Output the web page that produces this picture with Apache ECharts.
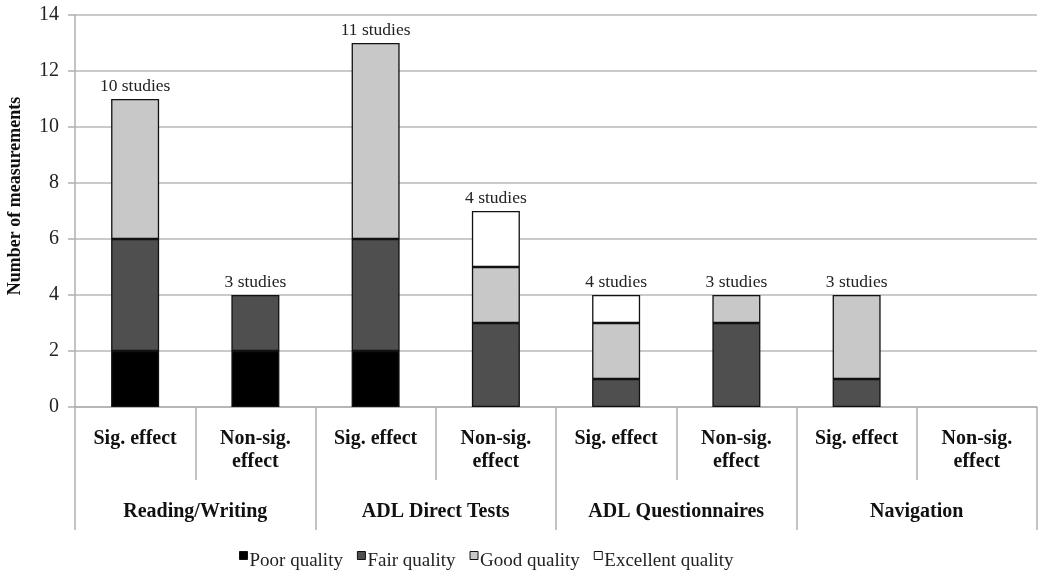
<!DOCTYPE html>
<html><head><meta charset="utf-8">
<script src="https://cdn.jsdelivr.net/npm/echarts@6/dist/echarts.min.js"></script>
<style>html,body{margin:0;padding:0;background:#fff}#c{width:1050px;height:578px}</style>
</head><body><div id="c"></div>
<script>
const categories = ['Sig. effect','Non-sig.\neffect','Sig. effect','Non-sig.\neffect','Sig. effect','Non-sig.\neffect','Sig. effect','Non-sig.\neffect'];
const groups = ['Reading/Writing','ADL Direct Tests','ADL Questionnaires','Navigation'];
const poor = [2,2,2,0,0,0,0,0];
const fair = [4,2,4,3,1,3,1,0];
const good = [5,0,7,2,2,1,3,0];
const excellent = [0,0,0,2,1,0,0,0];
const studies = ['10 studies','3 studies','11 studies','4 studies','4 studies','3 studies','3 studies',''];
const yTicks = {min:0, max:14, interval:2};

const FONT = '"Liberation Serif","Times New Roman",serif';
const toBar = a => a.map(v => v === 0 ? '-' : v);
const border = {borderColor:'#111', borderWidth:1.3};
function mk(name, data, color){
  return {name, type:'bar', stack:'s', xAxisIndex:0, barWidth:48, data:toBar(data),
    itemStyle:Object.assign({color}, border), emphasis:{disabled:true}};
}
const chart = echarts.init(document.getElementById('c'), null, {renderer:'canvas'});
chart.setOption({
  animation:false,
  textStyle:{fontFamily:FONT},
  grid:{left:75, right:13, top:15, bottom:171, outerBoundsMode:'none', containLabel:false},
  legend:{
    data:['Poor quality','Fair quality','Good quality','Excellent quality'],
    top:546, left:234, icon:'path://M0,0H10V10H0Z M0,23.99H0.01V24H0Z', itemWidth:8, itemHeight:19.2, itemGap:14,
    textStyle:{fontFamily:FONT, fontSize:19, color:'#222', padding:[0,0,0,-3]},
    itemStyle:{borderColor:'#111', borderWidth:1}
  },
  xAxis:[
    {type:'category', data:categories, position:'bottom',
      axisLine:{show:true, lineStyle:{color:'#b0b0b0', width:1.5}},
      axisTick:{show:true, length:73, lineStyle:{color:'#b0b0b0', width:1.5}},
      axisLabel:{fontFamily:FONT, fontWeight:'bold', fontSize:20, color:'#111', margin:20, lineHeight:23, interval:0}},
    {type:'category', data:groups, position:'bottom',
      axisLine:{show:false},
      axisTick:{show:true, length:123, lineStyle:{color:'#b0b0b0', width:1.5}},
      axisLabel:{fontFamily:FONT, fontWeight:'bold', fontSize:20, color:'#111', margin:95, interval:0}}
  ],
  yAxis:{type:'value', min:yTicks.min, max:yTicks.max, interval:yTicks.interval,
    name:'Number of measurements', nameLocation:'middle', nameGap:51, nameRotate:90,
    nameTextStyle:{fontFamily:FONT, fontWeight:'bold', fontSize:18, color:'#111', padding:[0,0,0,30]},
    axisLine:{show:true, lineStyle:{color:'#b0b0b0', width:1.5}},
    axisTick:{show:true, length:7, lineStyle:{color:'#b0b0b0', width:1.5}},
    axisLabel:{fontFamily:FONT, fontSize:20, color:'#222', margin:16},
    splitLine:{lineStyle:{color:'#b8b8b8', width:1.5}}
  },
  series:[
    mk('Poor quality', poor, '#000000'),
    mk('Fair quality', fair, '#4f4f4f'),
    mk('Good quality', good, '#c8c8c8'),
    mk('Excellent quality', excellent, '#ffffff'),
    {name:'studies', type:'bar', stack:'s', barWidth:48, silent:true,
      data:studies.map(s => s ? 0 : '-'),
      itemStyle:{color:'transparent', borderWidth:0},
      label:{show:true, position:'top', distance:4, fontFamily:FONT, fontSize:17.5, color:'#222',
        formatter:p => studies[p.dataIndex]}}
  ]
});
</script></body></html>
